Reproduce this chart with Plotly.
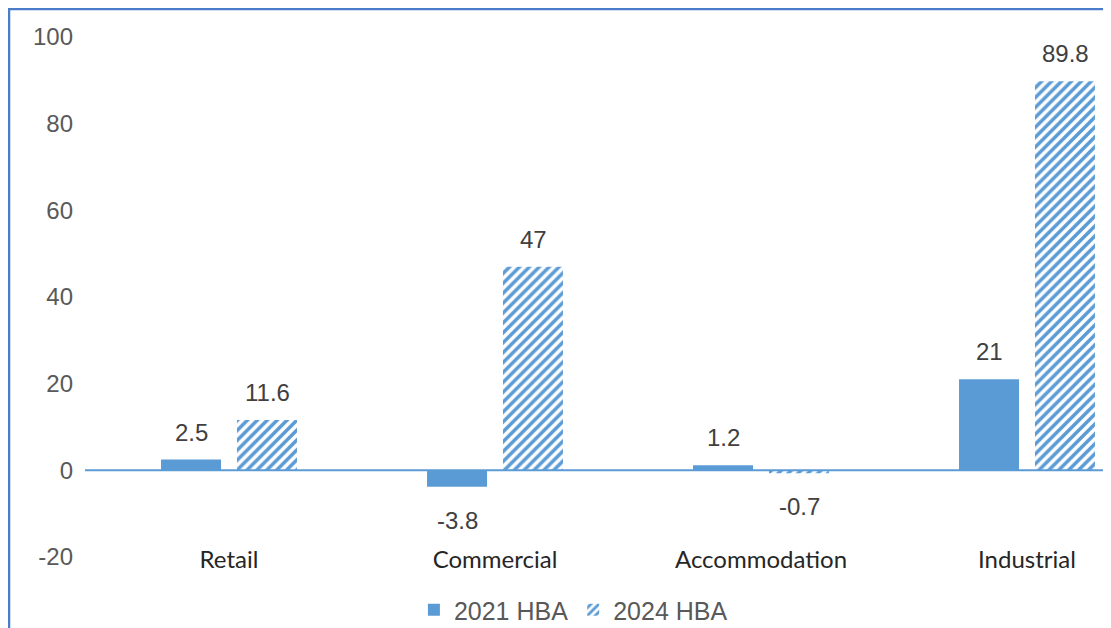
import plotly.graph_objects as go

categories = ["Retail", "Commercial", "Accommodation", "Industrial"]
series_2021 = [2.5, -3.8, 1.2, 21]
series_2024 = [11.6, 47, -0.7, 89.8]
series_names = ["2021 HBA", "2024 HBA"]
y_ticks = [-20, 0, 20, 40, 60, 80, 100]
y_tick_labels = ["-20", "0", "20", "40", "60", "80", "100"]

BLUE = "#5B9BD5"
W, H = 1103, 620          # page body has an 8px margin
ML, MT, MB = 88, 29, 71
PLOT_W = W - ML
PLOT_H = H - MT - MB
CAT_PX = 266.0

fig = go.Figure()
fig.add_trace(go.Bar(
    x=categories, y=series_2021, name=series_names[0],
    marker=dict(color=BLUE, line=dict(width=0)),
))
fig.add_trace(go.Bar(
    x=categories, y=series_2024, name=series_names[1],
    marker=dict(color="white", line=dict(width=0),
                pattern=dict(shape="/", fgcolor=BLUE, bgcolor="white",
                             size=7, solidity=0.5, fillmode="replace")),
))

# data labels
offset = 38
annos = []
for vals, sh in ((series_2021, -offset), (series_2024, offset)):
    for c, v in zip(categories, vals):
        pos = v >= 0
        annos.append(dict(
            x=c, y=v, xref="x", yref="y", xshift=sh,
            text=f"{v:g}", showarrow=False,
            yanchor="bottom" if pos else "top",
            yshift=12 if pos else -18,
            font=dict(family="Liberation Sans, Arial", size=24, color="#404040"),
        ))

def px2paper_x(px):
    return (px - ML) / PLOT_W

def px2paper_y(py):
    return (MT + PLOT_H - py) / PLOT_H

BORDER = "#4A7CC9"
shapes = [
    # zero line
    dict(type="line", xref="paper", yref="y", x0=px2paper_x(77), x1=1.0,
         y0=0, y1=0, line=dict(color=BLUE, width=2), layer="above"),
    # frame border (left and top)
    dict(type="line", xref="paper", yref="paper", x0=px2paper_x(1), x1=px2paper_x(1),
         y0=px2paper_y(0), y1=px2paper_y(H + 10), line=dict(color=BORDER, width=2.5)),
    dict(type="line", xref="paper", yref="paper", x0=px2paper_x(0), x1=px2paper_x(W + 10),
         y0=px2paper_y(1), y1=px2paper_y(1), line=dict(color=BORDER, width=2.5)),
]

fig.update_layout(
    width=W, height=H,
    margin=dict(l=ML, r=0, t=MT, b=MB, pad=0),
    paper_bgcolor="white", plot_bgcolor="white",
    barmode="group", bargap=0.429, bargroupgap=0.21,
    showlegend=True,
    legend=dict(orientation="h", xref="container", yref="container",
                x=0.368, xanchor="left", y=(H - 602) / H, yanchor="middle",
                font=dict(family="Liberation Sans, Arial", size=25, color="#595959"),
                itemsizing="constant", bgcolor="rgba(0,0,0,0)"),
    annotations=annos,
    shapes=shapes,
    xaxis=dict(type="category", range=[-0.5, -0.5 + PLOT_W / CAT_PX],
               showgrid=False, zeroline=False, showline=False, ticks="",
               tickfont=dict(family="Lato", size=24, color="#262626"),
               ticklabelstandoff=-14),
    yaxis=dict(range=[-20, 100], tickvals=y_ticks, ticktext=y_tick_labels,
               showgrid=False, zeroline=False, showline=False, ticks="",
               tickfont=dict(family="Liberation Sans, Arial", size=24, color="#595959"),
               ticklabelstandoff=22),
)

fig.write_html("out.html")
